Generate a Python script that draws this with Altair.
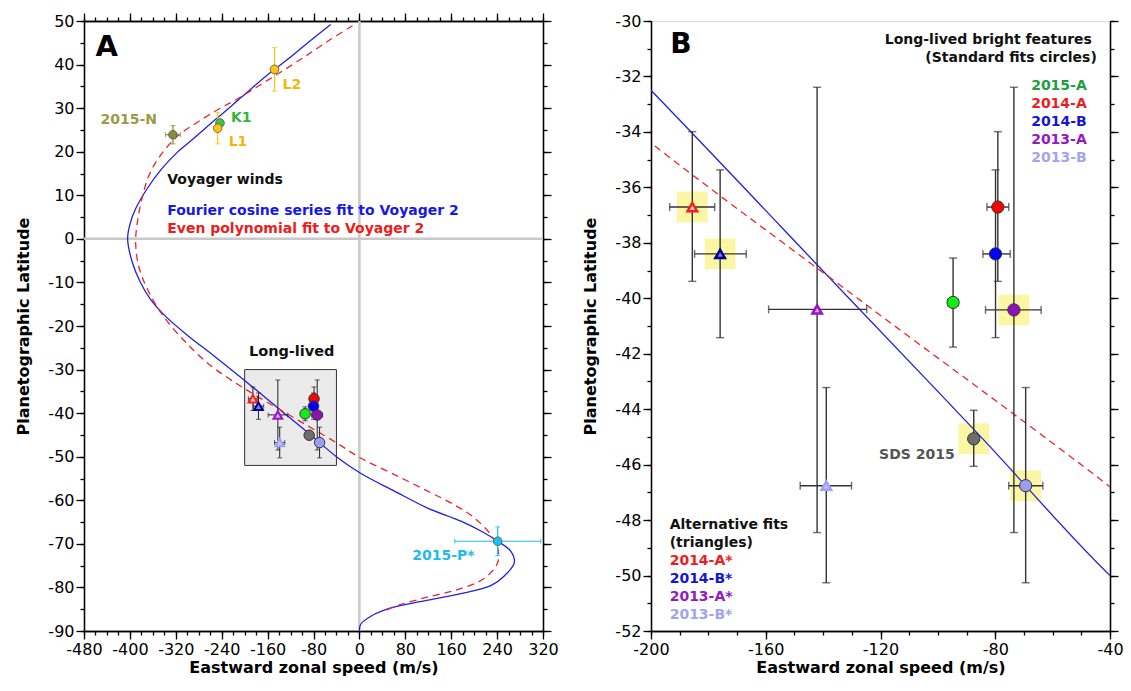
import altair as alt
import pandas as pd

FONT = "DejaVu Sans"

# ---------------- Panel A: Voyager 2 zonal wind profile fits ----------------
fourier_lat = [49.2, 45.0, 41.2, 38.9, 34.3, 30.5, 27.5, 22.9, 19.9, 16.0, 11.5, 6.9, 3.8, 0.0,
               -5.3, -9.9, -13.7, -17.5, -22.1, -26.7, -32.5, -40.0, -45.0, -50.0, -53.8, -57.9,
               -61.8, -64.8, -67.5, -69.4, -71.7, -74.3, -77.3, -79.6, -81.6, -83.1, -84.7,
               -86.6, -88.5, -90.0]
fourier_u = [-50, -90, -125, -148, -190, -223, -250, -290, -317, -345, -370, -390, -399, -404,
             -396, -382, -365, -340, -300, -255, -200, -131, -85, -40, 2, 61,
             119, 177, 218, 241, 264, 270, 253, 229, 171, 113, 55,
             20, 2, 0]

poly_lat = [48.9, 45.8, 42.7, 39.7, 35.9, 32.1, 29.8, 26.7, 23.7, 19.1, 14.5, 9.2, 3.8, -0.7,
            -6.1, -11.4, -17.5, -24.4, -29.0, -32.0, -34.4, -40.0, -46.8, -50.3, -54.1, -57.9,
            -61.0, -64.0, -67.9, -70.9, -74.3, -77.9, -80.5, -82.4, -84.7, -85.8]
poly_u = [-12, -50, -85, -120, -166, -213, -245, -283, -316, -347, -367, -379, -387, -390,
          -385, -370, -343, -298, -260, -228, -200, -128, -40, 2, 61, 119,
          165, 200, 229, 241, 241, 218, 171, 113, 55, 40]

# ---------------- Panel A: individual features ----------------
feat_name = ["2015-N", "K1", "L1", "L2", "2015-P*"]
feat_u = [-325, -243, -247, -148, 241]
feat_u_err = [13, 0, 3, 6, 75]
feat_lat = [23.9, 26.6, 25.4, 38.9, -69.4]
feat_lat_err = [2.1, 0.0, 3.6, 5.0, 3.3]
feat_color = ["#8A8A3E", "#3DC43D", "#FFC20E", "#FFC20E", "#1CC0EE"]
feat_text_color = ["#9A9A48", "#37B437", "#F2B705", "#F2B705", "#1DBBEA"]

# ---------------- Long-lived bright features (panel B and box in A) ----------------
ll_name = ["2014-A*", "2014-B*", "2013-A*", "2013-B*", "2014-A", "2014-B", "2015-A",
           "2013-A", "SDS 2015", "2013-B"]
ll_u = [-185.6, -175.9, -142.1, -138.9, -79.1, -79.9, -94.7, -73.5, -87.5, -69.4]
ll_u_lo = [-193.5, -184.8, -159.0, -148.0, -82.9, -84.3, -96.5, -83.4, -87.5, -75.3]
ll_u_hi = [-177.8, -166.8, -124.8, -130.1, -75.3, -74.8, -92.9, -64.0, -87.5, -63.4]
ll_lat = [-36.71, -38.40, -40.40, -46.76, -36.71, -38.40, -40.15, -40.42, -45.07, -46.76]
ll_lat_lo = [-39.39, -41.42, -48.45, -50.26, -39.39, -41.42, -41.76, -48.45, -46.06, -50.26]
ll_lat_hi = [-33.99, -35.37, -32.39, -43.22, -33.99, -35.37, -38.55, -32.39, -44.04, -43.22]
ll_shape = ["triangle", "triangle", "triangle", "triangle", "circle", "circle", "circle",
            "circle", "circle", "circle"]
ll_highlight = [True, True, False, False, False, False, False, True, True, True]
ll_color = ["#FF1A1A", "#00008B", "#9B12C8", "#A0A0F5", "#FF0000", "#0000FF", "#11EE11",
            "#9010B8", "#6E6E6E", "#9C9CF4"]
ll_fill = ["#FFD6D6", "#7C7CFF", "#D9A0F0", "#C4C4FF", "#FF0000", "#0000FF", "#11EE11",
           "#9010B8", "#6E6E6E", "#9C9CF4"]

std_labels = ["2015-A", "2014-A", "2014-B", "2013-A", "2013-B"]
std_colors = ["#1E9E3E", "#EE1C1C", "#1515D5", "#9419C0", "#A3A3F0"]
alt_labels = ["Alternative fits", "(triangles)", "2014-A*", "2014-B*", "2013-A*", "2013-B*"]
alt_colors = ["#111111", "#111111", "#EE1C1C", "#1515D5", "#9419C0", "#A3A3F0"]

# ---------------- layout constants ----------------
A_X = [-480, 320]
A_Y = [-90, 50]
B_X = [-200, -40]
B_Y = [-52, -30]
W, H = 459, 610


def sc(dom):
    return alt.Scale(domain=dom, nice=False, zero=False)


def X(field, dom, axis=None):
    return alt.X(field, type="quantitative", scale=sc(dom), axis=axis)


def Y(field, dom, axis=None):
    return alt.Y(field, type="quantitative", scale=sc(dom), axis=axis)


LABEL_EXPR = "datum.value < 0 ? '-' + format(-datum.value, 'd') : format(datum.value, 'd')"
AXBASE = dict(grid=False, domainColor="black", domainWidth=1.3, tickColor="black", tickWidth=1.3,
              labelFont=FONT, labelFontSize=16, labelColor="black", labelExpr=LABEL_EXPR,
              titleFont=FONT, titleFontSize=16, titleFontWeight="bold", titleColor="black",
              labelOverlap=False, labelFlush=False, labelPadding=2)


def ax(orient, values, size, labels=False, title=None, tpad=4):
    return alt.Axis(orient=orient, values=values, tickSize=size, labels=labels, title=title,
                    titlePadding=tpad, **AXBASE)


def axis_layers(xdom, ydom, xmaj, xmin, ymaj, ymin, xtitle, ytitle, top):
    base = pd.DataFrame({"u": [xdom[0]], "lat": [ydom[0]]})
    out = []
    out.append(alt.Chart(base).mark_point(opacity=0).encode(
        x=X("u", xdom, ax("bottom", xmaj, 8, True, xtitle, 2)),
        y=Y("lat", ydom, ax("left", ymaj, 8, True, ytitle, 16))))
    out.append(alt.Chart(base).mark_point(opacity=0).encode(
        x=X("u", xdom, ax("bottom", xmin, 4)),
        y=Y("lat", ydom, ax("left", ymin, 4))))
    out.append(alt.Chart(base).mark_point(opacity=0).encode(
        x=X("u", xdom, ax("top", xmaj, 8) if top else None),
        y=Y("lat", ydom, ax("right", ymaj, 8))))
    out.append(alt.Chart(base).mark_point(opacity=0).encode(
        x=X("u", xdom, ax("top", xmin, 4) if top else None),
        y=Y("lat", ydom, ax("right", ymin, 4))))
    return out


def curve_df(lat, u):
    return pd.DataFrame({"lat": lat, "u": u, "i": list(range(len(lat)))})


def curve_layers(xdom, ydom):
    blue = alt.Chart(curve_df(fourier_lat, fourier_u)).mark_line(
        color="#2020E0", strokeWidth=1.3, interpolate="catmull-rom", clip=True).encode(
        x=X("u", xdom), y=Y("lat", ydom), order="i:Q")
    red = alt.Chart(curve_df(poly_lat, poly_u)).mark_line(
        color="#E8262A", strokeWidth=1.3, strokeDash=[7, 5], interpolate="catmull-rom",
        clip=True).encode(x=X("u", xdom), y=Y("lat", ydom), order="i:Q")
    return [blue, red]


def errorbar_layers(u, ulo, uhi, lat, latlo, lathi, cols, xdom, ydom, width, cap):
    hb, vb, hc, vc = [], [], [], []
    for a, alo, ahi, b, blo, bhi, c in zip(u, ulo, uhi, lat, latlo, lathi, cols):
        if ahi > alo:
            hb.append({"u": alo, "u2": ahi, "lat": b, "col": c})
            vc.append({"u": alo, "lat": b, "col": c})
            vc.append({"u": ahi, "lat": b, "col": c})
        if bhi > blo:
            vb.append({"u": a, "lat": blo, "lat2": bhi, "col": c})
            hc.append({"u": a, "lat": blo, "col": c})
            hc.append({"u": a, "lat": bhi, "col": c})
    col = alt.Color("col:N", scale=None)
    out = []
    if hb:
        out.append(alt.Chart(pd.DataFrame(hb)).mark_rule(strokeWidth=width).encode(
            x=X("u", xdom), x2="u2", y=Y("lat", ydom), color=col))
        out.append(alt.Chart(pd.DataFrame(vc)).mark_tick(
            orient="vertical", size=cap, thickness=width).encode(
            x=X("u", xdom), y=Y("lat", ydom), color=col))
    if vb:
        out.append(alt.Chart(pd.DataFrame(vb)).mark_rule(strokeWidth=width).encode(
            x=X("u", xdom), y=Y("lat", ydom), y2="lat2", color=col))
        out.append(alt.Chart(pd.DataFrame(hc)).mark_tick(
            orient="horizontal", size=cap, thickness=width).encode(
            x=X("u", xdom), y=Y("lat", ydom), color=col))
    return out


def ll_df():
    return pd.DataFrame({"name": ll_name, "u": ll_u, "lat": ll_lat, "shape": ll_shape,
                         "col": ll_color, "fill": ll_fill, "hl": ll_highlight})


def ll_point_layers(xdom, ydom, csize, tsize, tstroke):
    df = ll_df()
    circ = alt.Chart(df[df["shape"] == "circle"]).mark_point(
        shape="circle", filled=True, size=csize, stroke="#333333", strokeWidth=1,
        opacity=1).encode(x=X("u", xdom), y=Y("lat", ydom), fill=alt.Fill("col:N", scale=None))
    tri = alt.Chart(df[df["shape"] == "triangle"]).mark_point(
        shape="triangle-up", filled=True, size=tsize, strokeWidth=tstroke, opacity=1).encode(
        x=X("u", xdom), y=Y("lat", ydom), fill=alt.Fill("fill:N", scale=None),
        stroke=alt.Stroke("col:N", scale=None))
    return [tri, circ]


def text_layer(labels, u, lat, cols, xdom, ydom, align, size=14, weight="bold",
               baseline="middle", dx=0, dy=0):
    df = pd.DataFrame({"label": labels, "u": u, "lat": lat, "col": cols})
    return alt.Chart(df).mark_text(
        align=align, baseline=baseline, font=FONT, fontSize=size, fontWeight=weight,
        dx=dx, dy=dy).encode(x=X("u", xdom), y=Y("lat", ydom), text="label:N",
                             color=alt.Color("col:N", scale=None))


# ======================= Panel A =======================
A_layers = []
A_layers.append(alt.Chart(pd.DataFrame({"u": [0], "lat": [A_Y[0]], "lat2": [A_Y[1]]}))
                .mark_rule(color="#C8C8C8", strokeWidth=2.5)
                .encode(x=X("u", A_X), y=Y("lat", A_Y), y2="lat2"))
A_layers.append(alt.Chart(pd.DataFrame({"u": [A_X[0]], "u2": [A_X[1]], "lat": [0]}))
                .mark_rule(color="#C8C8C8", strokeWidth=2.5)
                .encode(x=X("u", A_X), x2="u2", y=Y("lat", A_Y)))
A_layers.append(alt.Chart(pd.DataFrame({"u": [B_X[0]], "u2": [B_X[1]], "lat": [B_Y[1]],
                                        "lat2": [B_Y[0]]}))
                .mark_rect(fill="#EBEBEB", stroke="#333333", strokeWidth=1)
                .encode(x=X("u", A_X), x2="u2", y=Y("lat", A_Y), y2="lat2"))
A_layers.append(text_layer(["Long-lived"], [-118], [-25.9], ["#111111"], A_X, A_Y, "center",
                           size=14.5))
A_layers += curve_layers(A_X, A_Y)
A_layers += errorbar_layers(
    feat_u, [a - e for a, e in zip(feat_u, feat_u_err)], [a + e for a, e in zip(feat_u, feat_u_err)],
    feat_lat, [b - e for b, e in zip(feat_lat, feat_lat_err)],
    [b + e for b, e in zip(feat_lat, feat_lat_err)], feat_color, A_X, A_Y, 1.2, 5)
A_layers += errorbar_layers(ll_u, ll_u_lo, ll_u_hi, ll_lat, ll_lat_lo, ll_lat_hi,
                            ["#222222"] * len(ll_u), A_X, A_Y, 1.0, 5)
A_layers += ll_point_layers(A_X, A_Y, 110, 75, 2)
A_layers.append(alt.Chart(pd.DataFrame({"u": feat_u, "lat": feat_lat, "col": feat_color}))
                .mark_point(shape="circle", filled=True, size=75, stroke="#555555",
                            strokeWidth=0.8, opacity=1)
                .encode(x=X("u", A_X), y=Y("lat", A_Y), fill=alt.Fill("col:N", scale=None)))
feat_offsets = [("right", -16, -15), ("left", 11, -5), ("left", 11, 14), ("left", 8, 16),
                ("right", -23, 15)]
for k, (al, ddx, ddy) in enumerate(feat_offsets):
    A_layers.append(text_layer([feat_name[k]], [feat_u[k]], [feat_lat[k]], [feat_text_color[k]],
                               A_X, A_Y, al, size=14, dx=ddx, dy=ddy))
A_layers.append(text_layer(["A"], [-460], [42.0], ["#000000"], A_X, A_Y, "left", size=29,
                           baseline="alphabetic"))
A_layers.append(text_layer(["Voyager winds", "Fourier cosine series fit to Voyager 2",
                            "Even polynomial fit to Voyager 2"],
                           [-335, -335, -335], [13.4, 6.5, 2.3],
                           ["#111111", "#1818E6", "#EE1C1C"], A_X, A_Y, "left", size=14))
A_layers += axis_layers(A_X, A_Y, list(range(-480, 321, 80)), list(range(-480, 321, 20)),
                        list(range(-90, 51, 10)), list(range(-90, 51, 5)),
                        "Eastward zonal speed (m/s)", "Planetographic Latitude", True)
panelA = alt.layer(*A_layers).resolve_axis(x="independent", y="independent").properties(
    width=W, height=H)

# ======================= Panel B =======================
B_layers = []
dfll = ll_df()
B_layers.append(alt.Chart(dfll[dfll["hl"]]).mark_square(size=950, color="#FBF6A4", opacity=1)
                .encode(x=X("u", B_X), y=Y("lat", B_Y)))
B_layers += curve_layers(B_X, B_Y)
B_layers += errorbar_layers(ll_u, ll_u_lo, ll_u_hi, ll_lat, ll_lat_lo, ll_lat_hi,
                            ["#333333"] * len(ll_u), B_X, B_Y, 1.4, 8)
B_layers += ll_point_layers(B_X, B_Y, 150, 90, 2.5)
B_layers.append(text_layer(["B"], [-193.3], [-31.16], ["#000000"], B_X, B_Y, "left", size=28,
                           baseline="alphabetic"))
B_layers.append(text_layer(["Long-lived bright features"], [-46.3], [-30.70], ["#111111"],
                           B_X, B_Y, "right", size=14))
B_layers.append(text_layer(["(Standard fits circles)"], [-44.6], [-31.32], ["#111111"],
                           B_X, B_Y, "right", size=14))
row = 18.0 / (H / 22.0)
B_layers.append(text_layer(std_labels, [-48.1] * 5, [-32.33 - i * row for i in range(5)],
                           std_colors, B_X, B_Y, "right", size=14))
B_layers.append(text_layer(alt_labels, [-193.5] * 6, [-48.17 - i * row for i in range(6)],
                           alt_colors, B_X, B_Y, "left", size=14))
B_layers.append(text_layer(["SDS 2015"], [ll_u[8]], [ll_lat[8]], ["#555555"], B_X, B_Y,
                           "right", size=14, dx=-19, dy=16))
B_layers += axis_layers(B_X, B_Y, list(range(-200, -39, 40)), list(range(-200, -39, 10)),
                        list(range(-52, -29, 2)), list(range(-52, -29, 1)),
                        "Eastward zonal speed (m/s)", "Planetographic Latitude", False)
panelB = alt.layer(*B_layers).resolve_axis(x="independent", y="independent").properties(
    width=W, height=H)

chart = alt.hconcat(panelA, panelB, spacing=108, bounds="flush").properties(
    padding={"left": 15, "top": 11, "right": 5, "bottom": 5}
).configure_view(stroke="black", strokeWidth=1.3).configure(font=FONT)

chart.save("out.html", embed_options={"renderer": "svg", "actions": False})
